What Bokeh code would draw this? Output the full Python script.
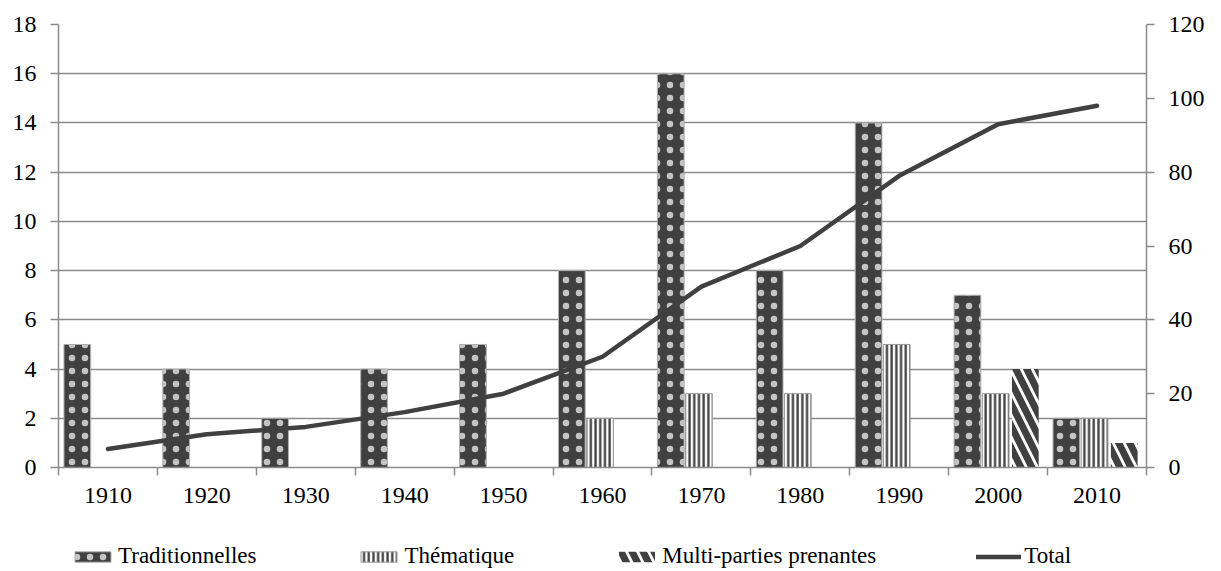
from bokeh.plotting import figure
from bokeh.layouts import column
from bokeh.models import Range1d, LinearAxis, FixedTicker, Legend, LegendItem, ColumnDataSource
from bokeh.embed import file_html
from bokeh.resources import INLINE

decades = ["1910", "1920", "1930", "1940", "1950", "1960", "1970", "1980", "1990", "2000", "2010"]
traditionnelles = [5, 4, 2, 4, 5, 8, 16, 8, 14, 7, 2]
thematique = [0, 0, 0, 0, 0, 2, 3, 3, 5, 3, 2]
multi_parties = [0, 0, 0, 0, 0, 0, 0, 0, 0, 4, 1]
total = [5, 9, 11, 15, 20, 30, 49, 60, 79, 93, 98]
left_ticks = [0, 2, 4, 6, 8, 10, 12, 14, 16, 18]
right_ticks = [0, 20, 40, 60, 80, 100, 120]
series_names = ["Traditionnelles", "Thématique", "Multi-parties prenantes", "Total"]

FONT = "Liberation Serif"
FS = "24px"
DARK = "#404040"
GRID = "#8a8a8a"
idx = list(range(len(decades)))

TRAD = dict(fill_color=DARK, line_color="#b0b0b0", line_width=1,
            hatch_pattern="dot", hatch_color="#c4c4c4", hatch_scale=13, hatch_weight=0.4)
THEM = dict(fill_color="white", line_color="#9a9a9a", line_width=1,
            hatch_pattern="vertical_line", hatch_color=DARK, hatch_scale=4.7, hatch_weight=2.3)
MULTI = dict(fill_color="white", line_color=None,
             hatch_pattern="left_diagonal_line", hatch_color=DARK, hatch_scale=22, hatch_weight=7)
TOT = dict(line_color=DARK, line_width=4.5, line_cap="round")

p = figure(frame_width=1088, frame_height=443, output_backend="svg", toolbar_location=None,
           x_range=Range1d(-0.5, len(decades) - 0.5), y_range=Range1d(0, 18),
           min_border_left=58, min_border_right=75, min_border_top=24, min_border_bottom=53)
p.extra_y_ranges = {"right": Range1d(0, 120)}
p.outline_line_color = None
p.xgrid.visible = False
p.ygrid.ticker = FixedTicker(ticks=left_ticks)
p.ygrid.grid_line_color = GRID
p.ygrid.grid_line_width = 1.5


def src(values, offset):
    xs = [i + offset for i, v in zip(idx, values) if v > 0]
    ys = [v for v in values if v > 0]
    return ColumnDataSource(dict(x=xs, top=ys))


W = 0.27
s_trad = src(traditionnelles, -0.31)
s_them = src(thematique, -0.025)
s_multi = src(multi_parties, 0.275)
s_tot = ColumnDataSource(dict(x=idx, y=total))
p.vbar(x="x", top="top", width=W, source=s_trad, **TRAD)
p.vbar(x="x", top="top", width=W, source=s_them, **THEM)
p.vbar(x="x", top="top", width=W, source=s_multi, **MULTI)
p.line(x="x", y="y", source=s_tot, y_range_name="right", **TOT)

# axes
xa = p.xaxis[0]
xa.ticker = FixedTicker(ticks=idx, minor_ticks=[i - 0.5 for i in range(len(decades) + 1)])
xa.major_label_overrides = {i: d for i, d in zip(idx, decades)}
xa.major_tick_line_color = None
xa.minor_tick_line_color = GRID
xa.minor_tick_line_width = 1.5
xa.minor_tick_in = 0
xa.minor_tick_out = 8
xa.axis_line_color = GRID
xa.axis_line_width = 1.5
xa.major_label_standoff = 12

ya = p.yaxis[0]
ya.ticker = FixedTicker(ticks=left_ticks)
ya.minor_tick_line_color = None
ya.major_tick_in = 0
ya.major_tick_out = 8
ya.major_tick_line_color = GRID
ya.major_tick_line_width = 1.5
ya.axis_line_color = GRID
ya.axis_line_width = 1.5
ya.major_label_standoff = 14

ra = LinearAxis(y_range_name="right", ticker=FixedTicker(ticks=right_ticks))
ra.minor_tick_line_color = None
ra.major_tick_in = 0
ra.major_tick_out = 8
ra.major_tick_line_color = GRID
ra.major_tick_line_width = 1.5
ra.axis_line_color = GRID
ra.axis_line_width = 1.5
ra.major_label_standoff = 14
p.add_layout(ra, "right")

for ax in (xa, ya, ra):
    ax.major_label_text_font = FONT
    ax.major_label_text_font_size = FS
    ax.major_label_text_color = "black"

# legend strip below the chart (same series, drawn outside this strip's visible range)
q = figure(width=1221, height=51, output_backend="svg", toolbar_location=None,
           x_range=Range1d(100, 101), y_range=Range1d(100, 101),
           x_axis_location=None, y_axis_location=None, min_border=0)
q.outline_line_color = None
q.grid.visible = False
l1 = q.vbar(x="x", top="top", width=W, source=s_trad, **TRAD)
l2 = q.vbar(x="x", top="top", width=W, source=s_them, **THEM)
l3 = q.vbar(x="x", top="top", width=W, source=s_multi, **MULTI)
l4 = q.line(x="x", y="y", source=s_tot, **TOT)

legend = Legend(items=[LegendItem(label=n, renderers=[r]) for n, r in zip(series_names, [l1, l2, l3, l4])],
                orientation="horizontal", location=(12, 2), spacing=100,
                glyph_width=45, glyph_height=13, label_standoff=3, label_height=20,
                label_text_font=FONT, label_text_font_size="23px", label_text_color="black",
                border_line_color=None, background_fill_alpha=0, padding=0, margin=0)
q.add_layout(legend, "center")

open("out.html", "w").write(file_html(column(p, q, spacing=0), INLINE))
